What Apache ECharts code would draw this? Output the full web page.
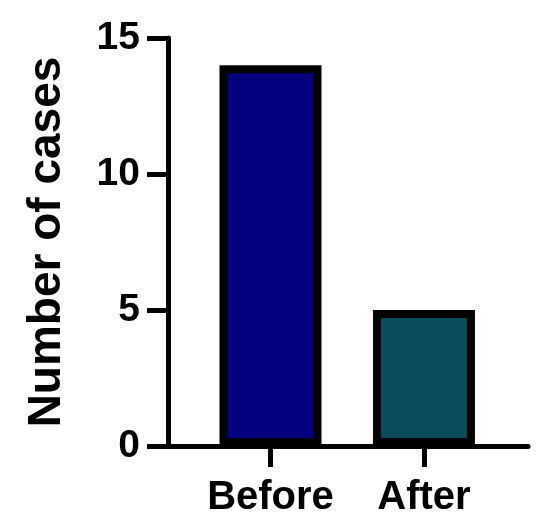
<!DOCTYPE html>
<html>
<head>
<meta charset="utf-8">
<script src="https://cdn.jsdelivr.net/npm/echarts@6/dist/echarts.min.js"></script>
<style>html,body{margin:0;padding:0;background:#fff}#c{width:550px;height:531px}</style>
</head>
<body>
<div id="c"></div>
<script>
const categories = ['Before', 'After'];
const values = [14, 5];
const barColors = ['#02027f', '#0a4c5d'];
const yTicks = [0, 5, 10, 15];
const yTitle = 'Number of cases';

const positions = categories.map((_, i) => i + 1);
const chart = echarts.init(document.getElementById('c'), null, {renderer: 'canvas'});
const font = '"Liberation Sans", Arial, sans-serif';
chart.setOption({
  animation: false,
  backgroundColor: '#fff',
  grid: {left: 168, right: 22, top: 38, bottom: 85, containLabel: false},
  xAxis: {
    type: 'value',
    min: 0.332,
    max: 2.678,
    axisLine: {show: true, lineStyle: {color: '#000', width: 5}},
    axisTick: {show: true, customValues: positions, length: 21, lineStyle: {color: '#000', width: 5}},
    axisLabel: {
      show: true, customValues: positions, margin: 32,
      formatter: v => categories[Math.round(v) - 1] || '',
      color: '#000', fontSize: 40, fontWeight: 'bold', fontFamily: font
    },
    splitLine: {show: false}
  },
  yAxis: {
    type: 'value',
    min: yTicks[0],
    max: yTicks[yTicks.length - 1],
    interval: 5,
    name: yTitle,
    nameLocation: 'middle',
    nameRotate: 90,
    nameGap: 98,
    nameTextStyle: {color: '#000', fontSize: 46, fontWeight: 'bold', fontFamily: font},
    axisLine: {show: true, lineStyle: {color: '#000', width: 5}},
    axisTick: {show: true, length: 21, lineStyle: {color: '#000', width: 5}},
    axisLabel: {margin: 28, color: '#000', fontSize: 39, fontWeight: 'bold', fontFamily: font},
    splitLine: {show: false}
  },
  series: [{
    type: 'bar',
    barWidth: 102,
    data: positions.map((p, i) => ({
      value: [p, values[i]],
      itemStyle: {color: barColors[i], borderColor: '#000', borderWidth: 8}
    }))
  }]
});
</script>
</body>
</html>
